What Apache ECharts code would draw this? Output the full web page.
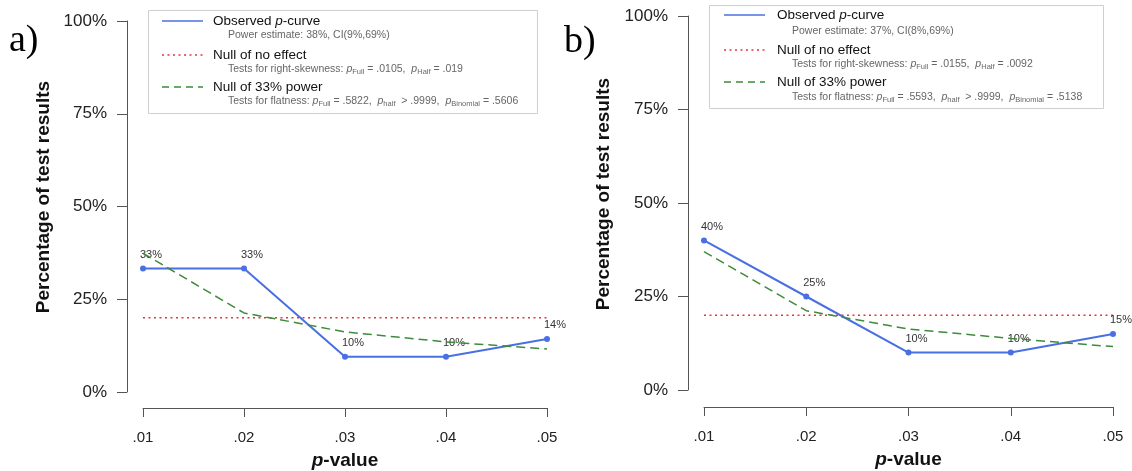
<!DOCTYPE html>
<html>
<head>
<meta charset="utf-8">
<script src="https://cdn.jsdelivr.net/npm/echarts@6/dist/echarts.min.js"></script>
<style>
html,body{margin:0;padding:0;background:#fff;}
#main{width:1132px;height:471px;}
</style>
</head>
<body>
<div id="main"></div>
<script>
// ---- data ----
const categories = ['.01', '.02', '.03', '.04', '.05'];
const observedA = [33.3, 33.3, 9.5, 9.5, 14.3];
const noEffectA = [20, 20, 20, 20, 20];
const power33A = [37.4, 21.3, 16.2, 13.5, 11.6];
const observedB = [40, 25, 10, 10, 15];
const noEffectB = [20, 20, 20, 20, 20];
const power33B = [37.0, 21.2, 16.3, 13.8, 11.6];
const yMin = 0, yMax = 100, yStep = 25;
const panelLetters = ['a)', 'b)'];
const yTitle = 'Percentage of test results';
const legendMain = ['Observed {i|p}-curve', 'Null of no effect', 'Null of 33% power'];
const legendSubA = [
  'Power estimate: 38%, CI(9%,69%)',
  'Tests for right-skewness: {i|p}{s|Full} = .0105,  {i|p}{s|Half} = .019',
  'Tests for flatness: {i|p}{s|Full} = .5822,  {i|p}{s|half}  > .9999,  {i|p}{s|Binomial} = .5606'
];
const legendSubB = [
  'Power estimate: 37%, CI(8%,69%)',
  'Tests for right-skewness: {i|p}{s|Full} = .0155,  {i|p}{s|Half} = .0092',
  'Tests for flatness: {i|p}{s|Full} = .5593,  {i|p}{s|half}  > .9999,  {i|p}{s|Binomial} = .5138'
];

// ---- styles ----
const BLUE = '#4a6fe3', RED = '#e0383a', GREEN = '#3d8b3d', AXIS = '#555';
const FONT = '"Liberation Sans", Arial, Helvetica, sans-serif';

function xAxisFor(idx, offset) {
  return {
    type: 'category', gridIndex: idx, data: categories, boundaryGap: false,
    offset: offset,
    axisLine: {onZero: false, lineStyle: {color: AXIS, width: 1}},
    axisTick: {length: 9, lineStyle: {color: AXIS}},
    axisLabel: {margin: 22, fontSize: 15, color: '#222', fontFamily: FONT},
    name: '{i|p}{b|-value}', nameLocation: 'middle', nameGap: 43,
    nameTextStyle: {
      rich: {
        i: {fontSize: 19, fontWeight: 'bold', fontStyle: 'italic', fontFamily: FONT, color: '#111'},
        b: {fontSize: 19, fontWeight: 'bold', fontFamily: FONT, color: '#111'}
      }
    }
  };
}
function yAxisFor(idx, offset) {
  return {
    type: 'value', gridIndex: idx, min: yMin, max: yMax, interval: yStep,
    offset: offset,
    axisLine: {show: true, onZero: false, lineStyle: {color: AXIS, width: 1}},
    axisTick: {show: true, length: 10, lineStyle: {color: AXIS}},
    axisLabel: {margin: 20, fontSize: 17, color: '#222', fontFamily: FONT, formatter: '{value}%'},
    splitLine: {show: false}
  };
}
function seriesFor(idx, obs, nul, pow) {
  return [
    {
      type: 'line', xAxisIndex: idx, yAxisIndex: idx, data: obs,
      symbol: 'circle', symbolSize: 6, z: 3,
      lineStyle: {color: BLUE, width: 2}, itemStyle: {color: BLUE},
      label: {
        show: true, position: 'top', distance: 5, offset: [8, 0],
        fontSize: 11, color: '#333', fontFamily: FONT,
        formatter: p => Math.round(p.value) + '%'
      },
      emphasis: {disabled: true}, animation: false
    },
    {
      type: 'line', xAxisIndex: idx, yAxisIndex: idx, data: nul,
      symbol: 'none', z: 2,
      lineStyle: {color: RED, width: 1.5, type: [2, 3.5]},
      emphasis: {disabled: true}, animation: false
    },
    {
      type: 'line', xAxisIndex: idx, yAxisIndex: idx, data: pow,
      symbol: 'none', z: 4,
      lineStyle: {color: GREEN, width: 1.5, type: [9, 5]},
      emphasis: {disabled: true}, animation: false
    }
  ];
}

function legendGraphic(box, lineX, textX, subX, mainYs, subYs, subs) {
  const els = [];
  els.push({type: 'rect', shape: box, style: {fill: '#fff', stroke: '#cfcfcf', lineWidth: 1}, z: 10});
  const lineStyles = [
    {stroke: BLUE, lineWidth: 1.5},
    {stroke: RED, lineWidth: 1.5, lineDash: [2, 3.5]},
    {stroke: GREEN, lineWidth: 1.5, lineDash: [7, 5]}
  ];
  for (let k = 0; k < 3; k++) {
    els.push({type: 'line', shape: {x1: lineX[0], y1: mainYs[k], x2: lineX[1], y2: mainYs[k]}, style: lineStyles[k], z: 11});
    els.push({type: 'text', x: textX, y: mainYs[k], z: 11, style: {
      text: legendMain[k], fontSize: 13.5, fontFamily: FONT, fill: '#111', verticalAlign: 'middle', align: 'left',
      rich: {i: {fontSize: 13.5, fontStyle: 'italic', fontFamily: FONT, fill: '#111'}}
    }});
    els.push({type: 'text', x: subX, y: subYs[k], z: 11, style: {
      text: subs[k], fontSize: 10.5, fontFamily: FONT, fill: '#666', verticalAlign: 'middle', align: 'left',
      lineHeight: 14,
      rich: {
        i: {fontSize: 10.5, fontStyle: 'italic', fontFamily: FONT, fill: '#666', lineHeight: 14, verticalAlign: 'middle'},
        s: {fontSize: 7.5, fontFamily: FONT, fill: '#666', lineHeight: 14, verticalAlign: 'bottom'}
      }
    }});
  }
  return els;
}

const SERIF = '"Liberation Serif", "Times New Roman", serif';
const chart = echarts.init(document.getElementById('main'), null, {renderer: 'canvas'});
const graphics = []
  .concat(legendGraphic({x: 148.5, y: 10.5, width: 389, height: 103}, [162, 203], 213, 228, [21, 55, 87], [35, 69, 101], legendSubA))
  .concat(legendGraphic({x: 709.5, y: 5.5, width: 394, height: 103}, [724, 765], 777, 792, [15, 50, 82], [31, 64, 97], legendSubB))
  .concat([
    {type: 'text', x: 9, y: 41, style: {text: panelLetters[0], fontSize: 38, fontFamily: SERIF, fill: '#000', verticalAlign: 'middle'}},
    {type: 'text', x: 564, y: 42, style: {text: panelLetters[1], fontSize: 38, fontFamily: SERIF, fill: '#000', verticalAlign: 'middle'}},
    {type: 'text', x: 44, y: 197, rotation: Math.PI / 2, style: {text: yTitle, fontSize: 19, fontWeight: 'bold', fontFamily: FONT, fill: '#111', align: 'center', verticalAlign: 'middle'}},
    {type: 'text', x: 604, y: 194, rotation: Math.PI / 2, style: {text: yTitle, fontSize: 19, fontWeight: 'bold', fontFamily: FONT, fill: '#111', align: 'center', verticalAlign: 'middle'}}
  ]);

chart.setOption({
  animation: false,
  backgroundColor: '#fff',
  grid: [
    {left: 143, right: 1132 - 547, top: 21, bottom: 471 - 392, containLabel: false, outerBoundsMode: 'none'},
    {left: 704, right: 1132 - 1113, top: 16, bottom: 471 - 390, containLabel: false, outerBoundsMode: 'none'}
  ],
  xAxis: [xAxisFor(0, 16), xAxisFor(1, 17)],
  yAxis: [yAxisFor(0, 16), yAxisFor(1, 16)],
  series: [].concat(seriesFor(0, observedA, noEffectA, power33A), seriesFor(1, observedB, noEffectB, power33B)),
  graphic: graphics
});
</script>
</body>
</html>
